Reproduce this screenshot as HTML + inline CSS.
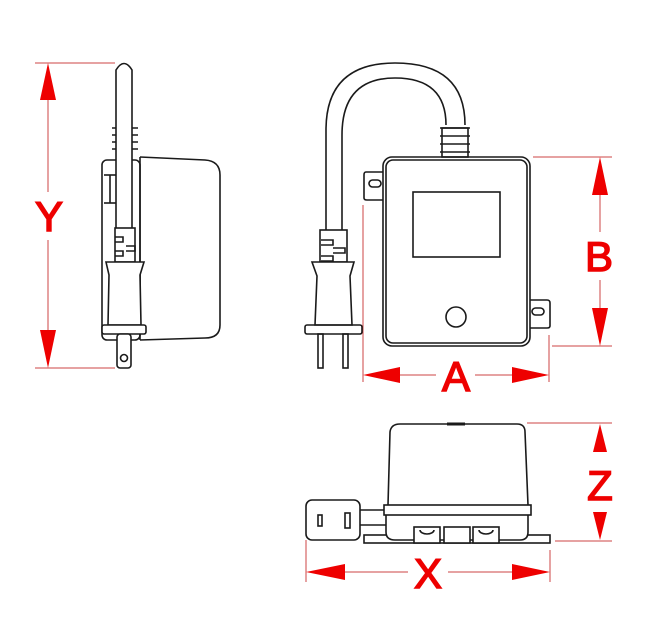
<!DOCTYPE html>
<html><head><meta charset="utf-8"><style>html,body{margin:0;padding:0;background:#fff}svg{display:block}</style></head>
<body>
<svg width="650" height="640" viewBox="0 0 650 640" xmlns="http://www.w3.org/2000/svg">
<g fill="none" stroke="#c44" stroke-width="1">
<line x1="35" y1="63" x2="115" y2="63"/><line x1="35" y1="368" x2="115" y2="368"/>
<line x1="48" y1="100" x2="48" y2="192"/><line x1="48" y1="240" x2="48" y2="330"/>
<line x1="533" y1="157" x2="612" y2="157"/><line x1="552" y1="346" x2="612" y2="346"/>
<line x1="600" y1="195" x2="600" y2="232"/><line x1="600" y1="280" x2="600" y2="308"/>
<line x1="363" y1="205" x2="363" y2="382"/><line x1="549" y1="335" x2="549" y2="382"/>
<line x1="400" y1="375" x2="436" y2="375"/><line x1="475" y1="375" x2="512" y2="375"/>
<line x1="527" y1="423" x2="612" y2="423"/><line x1="555" y1="541" x2="612" y2="541"/>
<line x1="306" y1="540" x2="306" y2="582"/><line x1="550" y1="550" x2="550" y2="582"/>
<line x1="345" y1="572" x2="408" y2="572"/><line x1="448" y1="572" x2="512" y2="572"/>
</g>
<g fill="#e00">
<path d="M48,63 L40,100 L56,100z"/><path d="M48,368 L40,330 L56,330z"/>
<path d="M600,157 L592,195 L608,195z"/><path d="M600,346 L592,308 L608,308z"/>
<path d="M363,375 L400,367 L400,383z"/><path d="M549,375 L512,367 L512,383z"/>
<path d="M600,424 L593,452 L607,452z"/><path d="M600,540 L593,512 L607,512z"/>
<path d="M306,572 L345,564 L345,580z"/><path d="M550,572 L512,564 L512,580z"/>
</g>
<g fill="#e00" stroke="#e00" stroke-width="1.5" font-family="Liberation Sans, sans-serif" font-size="42" text-anchor="middle">
<text x="49" y="231">Y</text><text x="599" y="271">B</text><text x="456" y="391">A</text>
<text x="600" y="500">Z</text><text x="428" y="588">X</text>
</g>
<g fill="none" stroke="#1a1a1a" stroke-width="1.6">
<!-- left view -->
<path d="M140,157 L205,160 Q220,161 220,175 L220,325 Q220,338 205,338 L140,340"/>
<path d="M140,157 L140,340"/>
<rect x="102" y="160" width="38" height="180" rx="5"/>
<line x1="104" y1="175" x2="118" y2="175"/><line x1="104" y1="203" x2="118" y2="203"/><line x1="110" y1="175" x2="110" y2="203"/>
<path d="M112,128 h7 M112,135 h7 M112,142 h7 M112,149 h7 M131,128 h7 M131,135 h7 M131,142 h7 M131,149 h7"/>
<path d="M116,262 L116,70 Q124,57 132,70 L132,262" fill="#fff"/>
<rect x="115" y="228" width="20" height="34" fill="#fff"/>
<path d="M115,237 h8 v5 h-8 M126,246 h9 v5 h-9 M115,251 h8 v5 h-8"/>
<path d="M106,262 L144,262 L140,275 L141,325 L108,325 L109,275z" fill="#fff"/>
<rect x="102" y="325" width="44" height="9" rx="2" fill="#fff"/>
<rect x="117" y="334" width="14" height="34" rx="3" fill="#fff"/>
<circle cx="124" cy="358" r="3.5"/>
<!-- middle: cord -->
<path d="M326,230 L326,130 Q326,63 395,63 Q465,63 465,125"/>
<path d="M342,230 L342,135 Q342,78 395,78 Q446,78 446,125"/>
<rect x="442" y="128" width="26" height="29" fill="#fff"/>
<path d="M440,128 h30 M440,136 h30 M440,144 h30 M440,152 h30"/>
<path d="M383,172 L366,172 Q364,172 364,175 L364,198 Q364,200 367,200 L383,200"/>
<rect x="369" y="180" width="12" height="7" rx="3.5"/>
<path d="M530,300 L547,300 Q550,300 550,303 L550,326 Q550,328 547,328 L530,328"/>
<rect x="532" y="308" width="12" height="7" rx="3.5"/>
<rect x="383" y="157" width="147" height="189" rx="9"/>
<rect x="386" y="160" width="141" height="183" rx="7"/>
<rect x="413" y="192" width="87" height="65"/>
<circle cx="456" cy="317" r="10"/>
<rect x="320" y="230" width="27" height="32" fill="#fff"/>
<path d="M321,240 h12 v5 h-12 M333,248 h12 v5 h-12 M321,256 h12 v5 h-12"/>
<path d="M312,262 L354,262 L350,276 L352,325 L315,325 L317,276z" fill="#fff"/>
<rect x="305" y="325" width="57" height="9" rx="2"/>
<rect x="318" y="334" width="5" height="34"/><rect x="343" y="334" width="5" height="34"/>
<!-- bottom view -->
<rect x="364" y="535" width="186" height="8" fill="#fff"/>
<path d="M360,510 L386,510 M360,525 L386,525"/>
<path d="M386,515 L386,532 Q386,540 395,540 L520,540 Q528,540 528,532 L528,515" fill="#fff"/>
<path d="M388,505 L390,432 Q391,424 400,424 L517,424 Q525,424 525,432 L528,505" fill="#fff"/>
<rect x="384" y="505" width="147" height="10" fill="#fff"/>
<rect x="414" y="527" width="26" height="16" fill="#fff"/><rect x="444" y="527" width="26" height="16" fill="#fff"/><rect x="473" y="527" width="26" height="16" fill="#fff"/>
<path d="M420,530 a7,4 0 0 0 14,0 M479,530 a7,4 0 0 0 14,0"/>
<rect x="306" y="500" width="54" height="40" rx="6" fill="#fff"/>
<rect x="318" y="515" width="4" height="11"/><rect x="345" y="513" width="5" height="15"/>
<line x1="447" y1="424" x2="465" y2="424" stroke-width="3"/>
</g>
</svg>
</body></html>
